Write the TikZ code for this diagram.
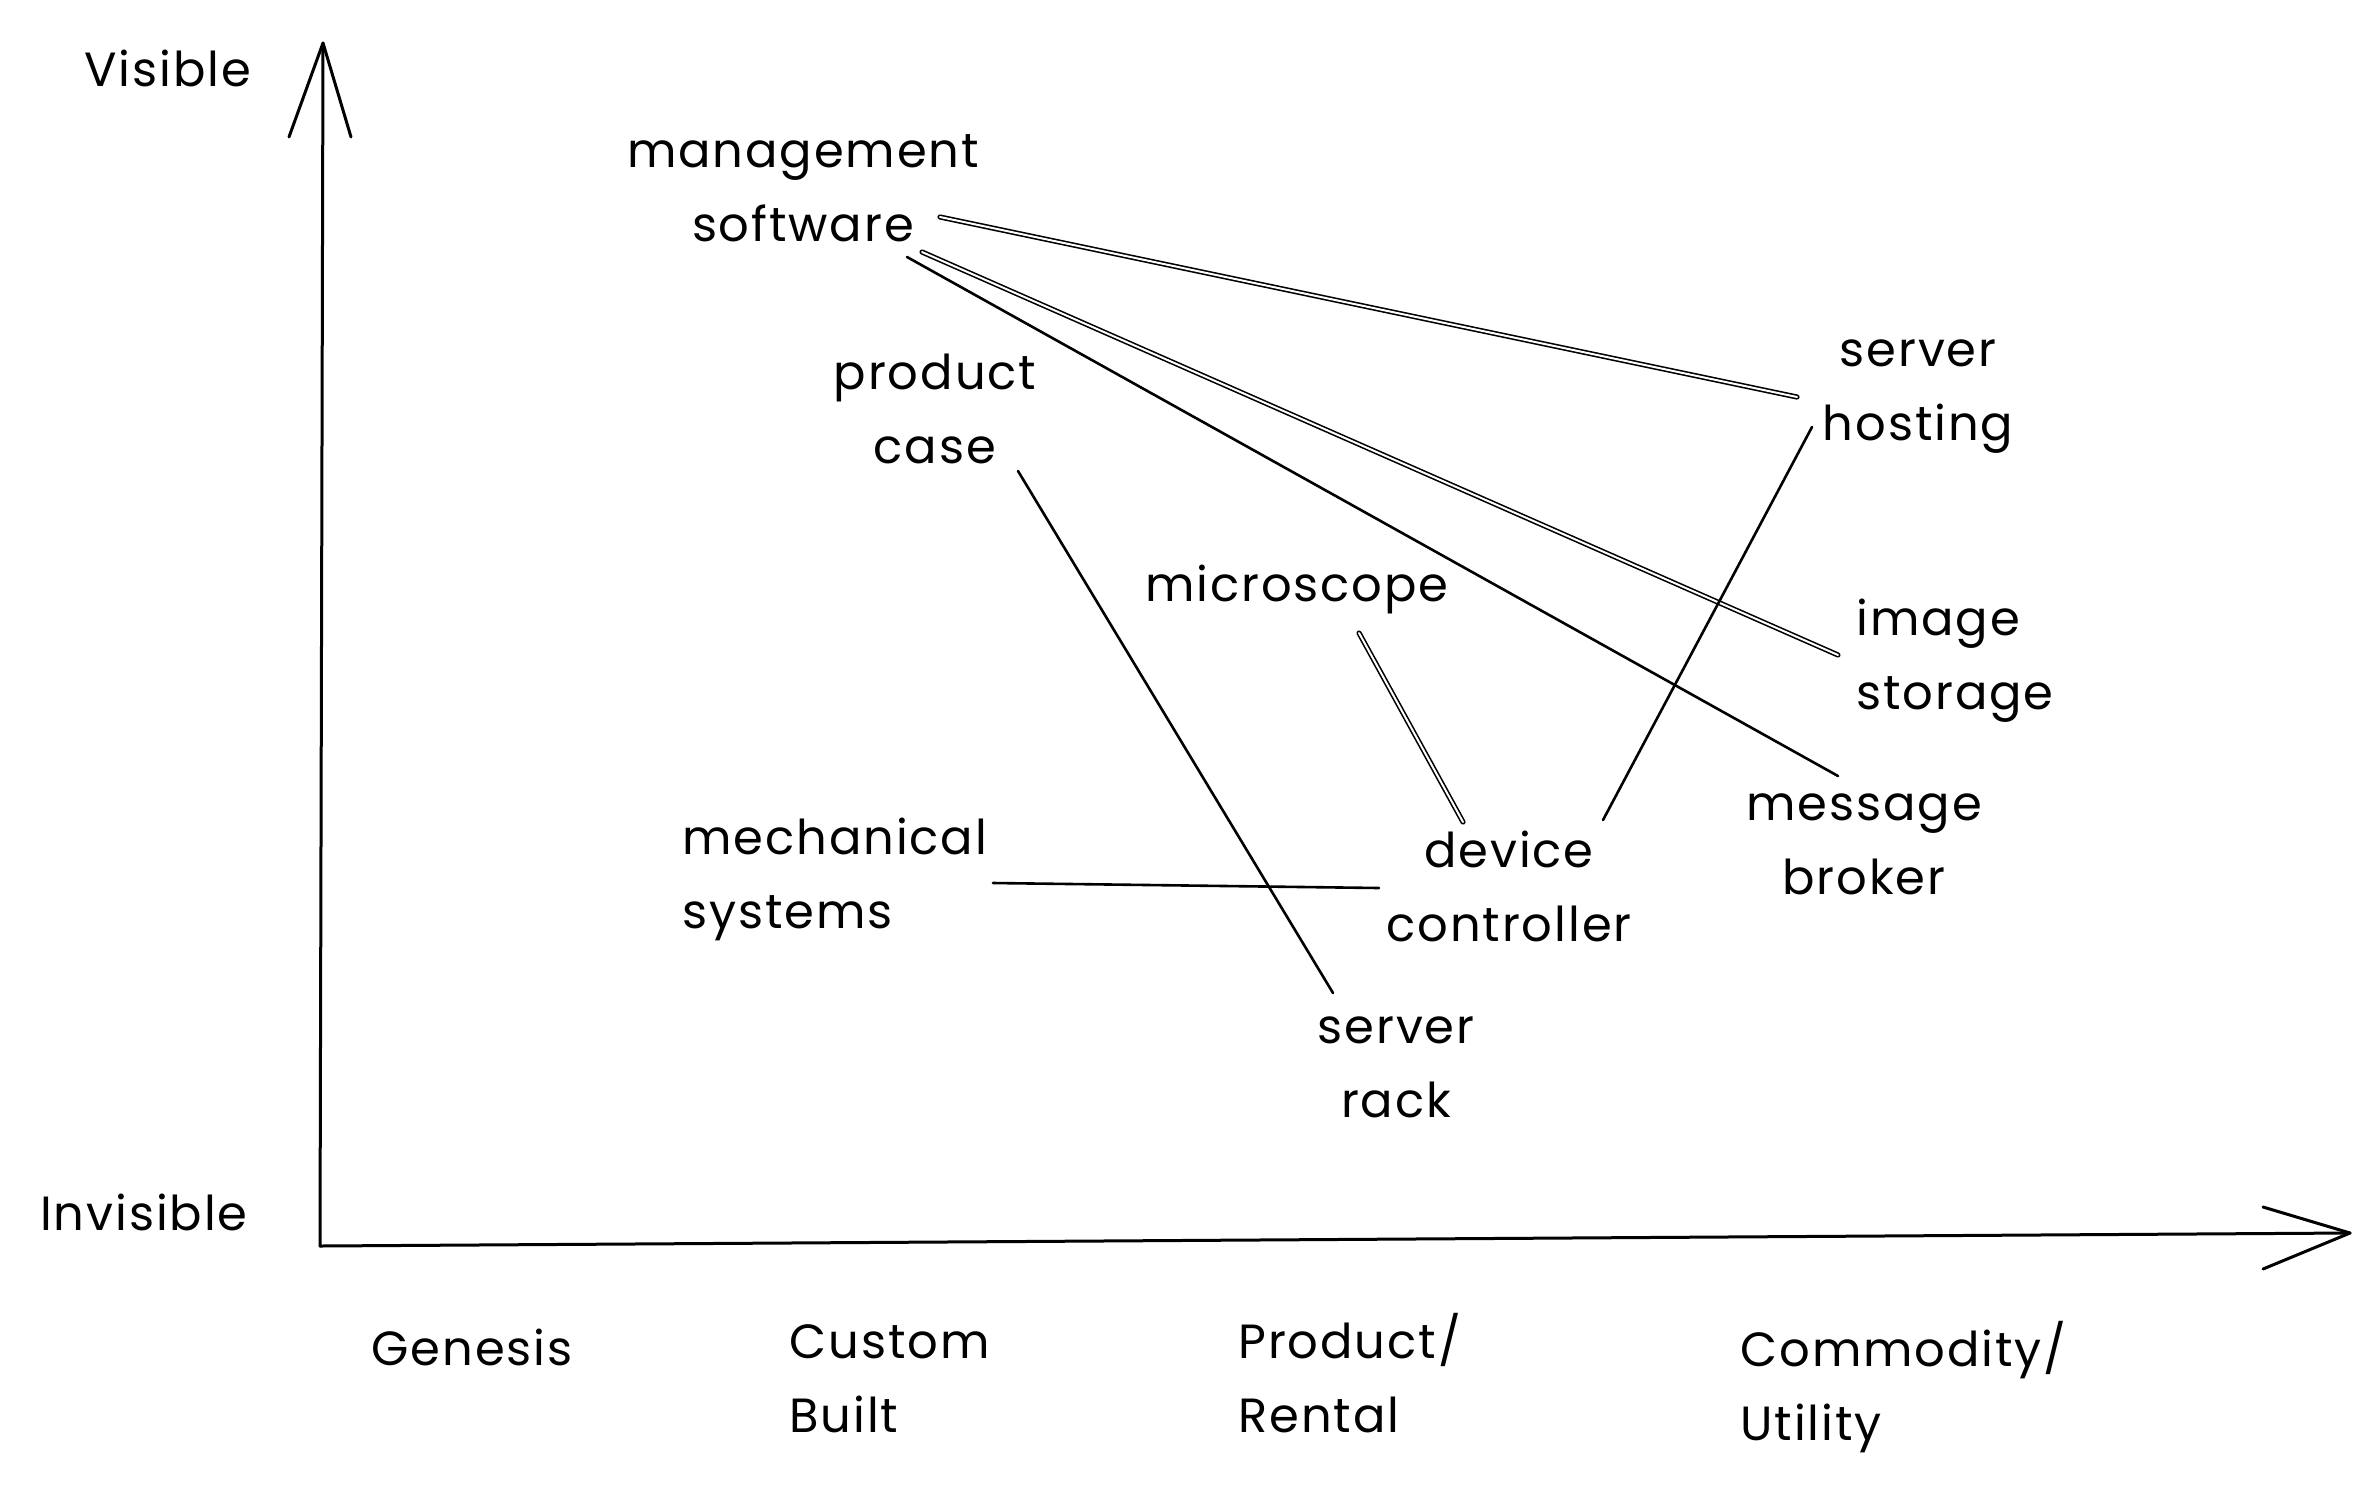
\documentclass[tikz,border=0pt]{standalone}
\usepackage{fontspec}
\setmainfont[LetterSpace=4]{Poppins}
\usetikzlibrary{calc}
\begin{document}
\begin{tikzpicture}[x=0.5pt,y=-0.5pt,
  lbl/.style={inner sep=0pt, font=\fontsize{24}{37}\selectfont, align=center},
  lbll/.style={lbl, align=left, anchor=west},
  conn/.style={line width=1.3pt, line cap=round},
  conntwo/.style={line width=0.8pt, double=white, double distance=1pt, line cap=round},
  axis/.style={line width=1.5pt, line cap=round, line join=round}]
\useasboundingbox (0,0) rectangle (2376,1494);
\fill[white] (0,0) rectangle (2376,1494);
% axes
\coordinate (O) at (320,1246);
\coordinate (ytip) at (323,43);
\coordinate (yl) at (289,137);
\coordinate (yr) at (351,137);
\coordinate (xtip) at (2350,1233);
\coordinate (xu) at (2263,1207);
\coordinate (xd) at (2263,1269);
\draw[axis] (O) -- (ytip);
\draw[axis] (yl) -- (ytip) -- (yr);
\draw[axis] (O) -- (xtip);
\draw[axis] (xu) -- (xtip) -- (xd);
% axis labels
\node[lbl] (vis) at (168,68) {Visible};
\node[lbl] (invis) at (144,1212) {Invisible};
\node[lbl] (gen) at (472,1347) {Genesis};
\node[lbll] (cb) at (789,1379) {Custom\\Built};
\node[lbll] (pr) at (1238,1373) {Product/\\Rental};
\node[lbll] (cu) at (1740,1387) {Commodity/\\Utility};
% components
\node[lbl] (ms) at (803,188) {management\\software};
\node[lbl] (pc) at (935,409) {product\\case};
\node[lbl] (sh) at (1918,397) {server\\hosting};
\node[lbl] (mic) at (1297,589) {microscope};
\node[lbll] (is) at (1856,661) {image\\storage};
\node[lbl] (mb) at (1864,844) {message\\broker};
\node[lbll] (mech) at (682,879) {mechanical\\systems};
\node[lbl] (dc) at (1509,886) {device\\controller};
\node[lbl] (sr) at (1396,1067) {server\\rack};
% connectors
\draw[conntwo] ($(ms.center)+(137,29)$) -- ($(sh.center)+(-121,0)$);
\draw[conntwo] ($(ms.center)+(119,64)$) -- ($(is.west)+(-18,-6)$);
\draw[conn] ($(ms.center)+(104,69)$) -- ($(mb.center)+(-26,-68)$);
\draw[conn] ($(pc.center)+(83,62)$) -- ($(sr.center)+(-63,-74)$);
\draw[conntwo] ($(mic.center)+(62,44)$) -- ($(dc.center)+(-46,-64)$);
\draw[conn] ($(dc.center)+(94,-66)$) -- ($(sh.center)+(-106,30)$);
\draw[conn] ($(mech.west)+(311,4)$) -- ($(dc.center)+(-130,2)$);
\end{tikzpicture}
\end{document}
